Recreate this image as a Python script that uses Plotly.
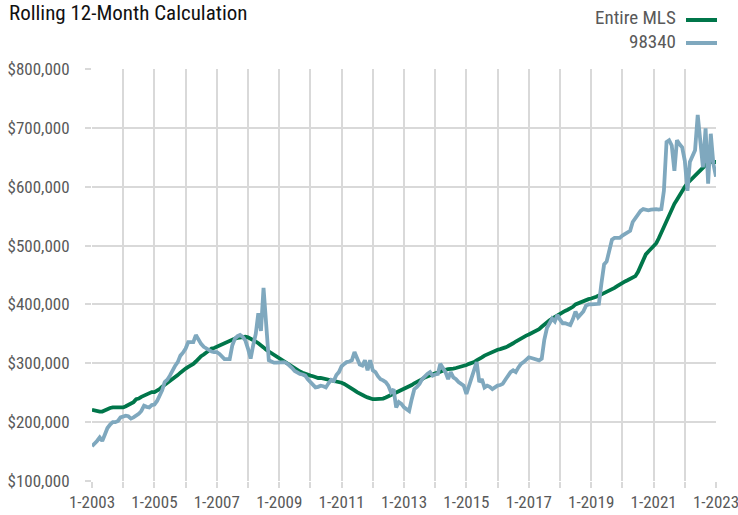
import pandas as pd
import plotly.graph_objects as go

# ---- Data (monthly, Jan 2003 – Jan 2023), values in thousands of dollars ----
start_month = "2003-01-01"

entire_mls_k = [
    221, 220, 218, 218, 218, 220, 223, 224, 225, 225, 225, 225,   # 2003
    225, 227, 229, 231, 234, 239, 240, 243, 245, 247, 249, 251,   # 2004
    251, 253, 256, 260, 263, 266, 269, 272, 276, 280, 284, 288,   # 2005
    291, 294, 296, 299, 303, 308, 312, 315, 319, 323, 325, 326,   # 2006
    328, 331, 333, 335, 337, 339, 341, 342, 343, 344, 345, 345,   # 2007
    344, 342, 340, 337, 334, 331, 327, 323, 320, 317, 314, 311,   # 2008
    308, 305, 302, 300, 298, 295, 291, 289, 286, 284, 282, 280,   # 2009
    279, 278, 276, 275, 275, 274, 273, 273, 272, 271, 270, 268,   # 2010
    267, 265, 262, 259, 257, 254, 251, 248, 246, 244, 242, 240,   # 2011
    239, 239, 239, 239, 240, 242, 244, 247, 248, 251, 253, 255,   # 2012
    257, 259, 261, 263, 266, 268, 271, 273, 276, 278, 280, 282,   # 2013
    283, 284, 286, 288, 289, 290, 290, 291, 292, 293, 294, 296,   # 2014
    297, 299, 300, 302, 305, 307, 310, 313, 315, 318, 320, 321,   # 2015
    323, 324, 325, 327, 329, 331, 334, 337, 340, 342, 345, 347,   # 2016
    349, 351, 353, 355, 358, 362, 366, 370, 373, 376, 379, 381,   # 2017
    383, 387, 389, 391, 393, 396, 400, 402, 404, 405, 407, 409,   # 2018
    410, 411, 413, 415, 417, 419, 421, 423, 426, 428, 431, 434,   # 2019
    437, 439, 441, 443, 445, 448, 455, 465, 475, 485, 490, 495,   # 2020
    499, 504, 512, 522, 532, 543, 553, 561, 571, 578, 586, 592,   # 2021
    600, 606, 610, 615, 620, 624, 627, 632, 637, 641, 642, 642,   # 2022
    642,                                                          # 2023
]

zip_98340_k = [
    159, 163, 168, 174, 168, 179, 190, 196, 200, 200, 202, 208,   # 2003
    209, 211, 210, 206, 208, 211, 214, 219, 228, 226, 225, 229,   # 2004
    230, 236, 245, 254, 268, 272, 279, 288, 296, 302, 313, 318,   # 2005
    325, 336, 336, 336, 348, 340, 333, 328, 325, 322, 320, 319,   # 2006
    319, 316, 312, 307, 307, 307, 330, 342, 346, 348, 345, 339,   # 2007
    325, 308, 330, 350, 385, 355, 428, 365, 305, 303, 301, 301,   # 2008
    301, 301, 302, 300, 297, 292, 287, 284, 282, 281, 279, 273,   # 2009
    268, 262, 259, 260, 262, 261, 259, 266, 272, 270, 280, 285,   # 2010
    295, 299, 302, 303, 305, 319, 308, 298, 296, 305, 288, 305,   # 2011
    288, 285, 278, 273, 271, 268, 262, 251, 256, 225, 234, 231,   # 2012
    225, 222, 219, 239, 256, 260, 265, 273, 278, 282, 285, 279,   # 2013
    281, 282, 299, 293, 285, 273, 285, 276, 273, 268, 265, 262,   # 2014
    248, 262, 272, 290, 302, 268, 273, 259, 262, 260, 256, 259,   # 2015
    262, 263, 265, 272, 279, 285, 288, 285, 293, 299, 302, 305,   # 2016
    310, 309, 308, 306, 305, 308, 340, 360, 368, 376, 371, 382,   # 2017
    374, 368, 368, 367, 365, 375, 388, 378, 382, 388, 398, 400,   # 2018
    400, 400, 400, 401, 436, 468, 473, 495, 510, 513, 513, 513,   # 2019
    517, 520, 522, 525, 540, 546, 552, 559, 562, 561, 560, 561,   # 2020
    562, 562, 561, 562, 593, 676, 679, 670, 627, 679, 672, 667,   # 2021
    644, 593, 642, 653, 662, 722, 679, 633, 699, 605, 690, 639,   # 2022
    617,                                                          # 2023
]

series_names = ["Entire MLS", "98340"]
series_colors = ["#00764A", "#7FA8BE"]

tick_years = list(range(2003, 2024))
tick_labels = [f"1-{y}" if (y - 2003) % 2 == 0 else "" for y in tick_years]

y_ticks = [100000, 200000, 300000, 400000, 500000, 600000, 700000, 800000]

# ---- Build ----
W, H = 738, 515
ML, MR, MT, MB = 92, 22, 69, 34
PW, PH = W - ML - MR, H - MT - MB


def px_x(px):
    return (px - ML) / PW


def px_y(py):
    return 1 - (py - MT) / PH


dates = pd.date_range(start_month, periods=len(entire_mls_k), freq="MS")
tick_vals = [pd.Timestamp(f"{y}-01-01") for y in tick_years]

FONT = "Liberation Sans Narrow, Arial Narrow, Roboto Condensed, DejaVu Sans Condensed, sans-serif"
GRID = "#D9D9D9"

fig = go.Figure()
for name, vals, color in zip(series_names, [entire_mls_k, zip_98340_k], series_colors):
    fig.add_trace(go.Scatter(
        x=dates, y=[v * 1000 for v in vals], mode="lines", name=name,
        line=dict(color=color, width=3.8), showlegend=False,
        hovertemplate="%{x|%b %Y}: %{y:$,.0f}<extra>" + name + "</extra>",
    ))

fig.update_layout(
    width=W, height=H,
    margin=dict(l=ML, r=MR, t=MT, b=MB, autoexpand=False),
    paper_bgcolor="white", plot_bgcolor="white",
    font=dict(family=FONT, color="#595959", size=17),
    showlegend=False,
)

fig.add_annotation(text="Rolling 12-Month Calculation", xref="paper", yref="paper",
                   x=px_x(7), y=px_y(13), xanchor="left", yanchor="middle",
                   showarrow=False, font=dict(family=FONT, size=21, color="#111111"))

fig.update_xaxes(
    type="date", range=[tick_vals[0], tick_vals[-1]], automargin=False,
    tickmode="array", tickvals=tick_vals, ticktext=tick_labels,
    ticklabeloverflow="allow",
    showgrid=True, gridcolor=GRID, gridwidth=2,
    ticks="outside", ticklen=6, tickcolor=GRID, tickwidth=2,
    showline=False, zeroline=False,
    tickfont=dict(family=FONT, size=17, color="#595959"),
)
fig.update_yaxes(
    range=[100000, 800000], tickmode="array", tickvals=y_ticks, automargin=False,
    tickformat="$,.0f", ticklabeloverflow="allow",
    showgrid=True, gridcolor=GRID, gridwidth=2,
    ticks="outside", ticklen=6, tickcolor=GRID, tickwidth=2,
    ticklabelstandoff=12,
    showline=False, zeroline=False,
    tickfont=dict(family=FONT, size=17, color="#595959"),
)

# manual legend: text on the left, line sample on the right
legend_text_y = [18, 42]
legend_line_y = [20, 43]
for name, color, ty, ly in zip(series_names, series_colors, legend_text_y, legend_line_y):
    fig.add_annotation(text=name, xref="paper", yref="paper",
                       x=px_x(678), y=px_y(ty),
                       xanchor="right", yanchor="middle", showarrow=False,
                       font=dict(family=FONT, size=19, color="#595959"))
    fig.add_shape(type="line", xref="paper", yref="paper",
                  x0=px_x(686), x1=px_x(717), y0=px_y(ly), y1=px_y(ly),
                  line=dict(color=color, width=4))

fig.write_html(
    "out.html",
    config={"displayModeBar": False},
    post_script="document.body.style.margin='0';document.body.style.overflow='hidden';",
)
